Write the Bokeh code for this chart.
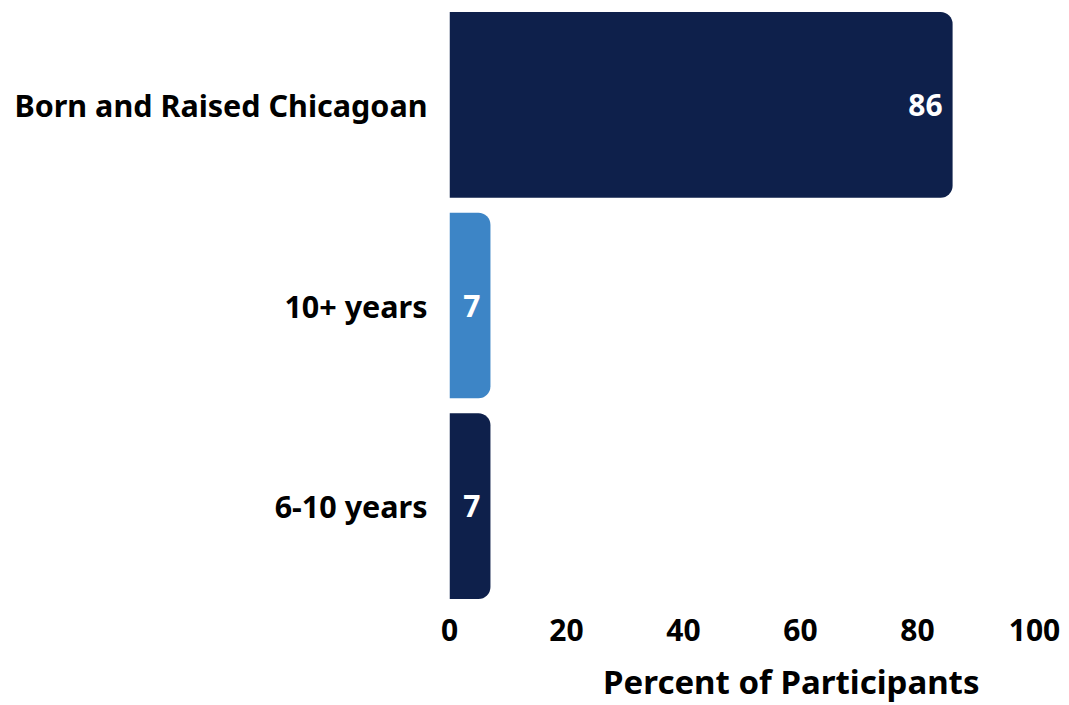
from bokeh.plotting import figure
from bokeh.models import ColumnDataSource, FactorRange, LabelSet, Title, FixedTicker
from bokeh.core.properties import value
from bokeh.embed import file_html
from bokeh.resources import INLINE

categories = ["Born and Raised Chicagoan", "10+ years", "6-10 years"]
percents = [86, 7, 7]
bar_colors = ["#0e204b", "#3d85c6", "#0e204b"]
x_ticks = [0, 20, 40, 60, 80, 100]

FONT = "Noto Sans"

src = ColumnDataSource(dict(
    cat=categories,
    val=percents,
    color=bar_colors,
    lbl=[str(v) for v in percents],
))

p = figure(
    width=1060, height=704,
    y_range=FactorRange(factors=list(reversed(categories)), range_padding=0),
    x_range=(0, 100),
    output_backend="svg", toolbar_location=None,
    min_border_left=449, min_border_right=26, min_border_top=4, min_border_bottom=90,
)
p.outline_line_color = None
p.xgrid.grid_line_color = None
p.ygrid.grid_line_color = None
p.background_fill_color = "white"
p.border_fill_color = "white"

p.hbar(y="cat", right="val", left=0, height=0.925, source=src,
       fill_color="color", line_color=None, border_radius=(0, 12, 12, 0))

labels = LabelSet(x="val", y="cat", text="lbl", source=src,
                  x_offset=-10, text_align="right", text_baseline="middle",
                  text_color="white", text_font=value(FONT), text_font_style="bold",
                  text_font_size="30px")
p.add_layout(labels)

p.xaxis.ticker = FixedTicker(ticks=x_ticks)
p.xaxis.axis_line_color = None
p.xaxis.major_tick_line_color = None
p.xaxis.minor_tick_line_color = None
p.xaxis.major_label_text_font = FONT
p.xaxis.major_label_text_font_style = "bold"
p.xaxis.major_label_text_font_size = "30px"
p.xaxis.major_label_text_color = "black"
p.xaxis.major_label_standoff = 6
p.xaxis.axis_label = " "
p.xaxis.axis_label_text_font_size = "8px"
p.xaxis.axis_label_standoff = 0

p.yaxis.axis_line_color = None
p.yaxis.major_tick_line_color = None
p.yaxis.minor_tick_line_color = None
p.yaxis.major_label_text_font = FONT
p.yaxis.major_label_text_font_style = "bold"
p.yaxis.major_label_text_font_size = "30.5px"
p.yaxis.major_label_text_color = "black"
p.yaxis.major_label_standoff = 16

x_title = Title(text="Percent of Participants", align="right", offset=55,
                text_font=FONT, text_font_style="bold", text_font_size="33px",
                text_color="black", standoff=2)
p.add_layout(x_title, "below")

open("out.html", "w").write(file_html(p, INLINE))
